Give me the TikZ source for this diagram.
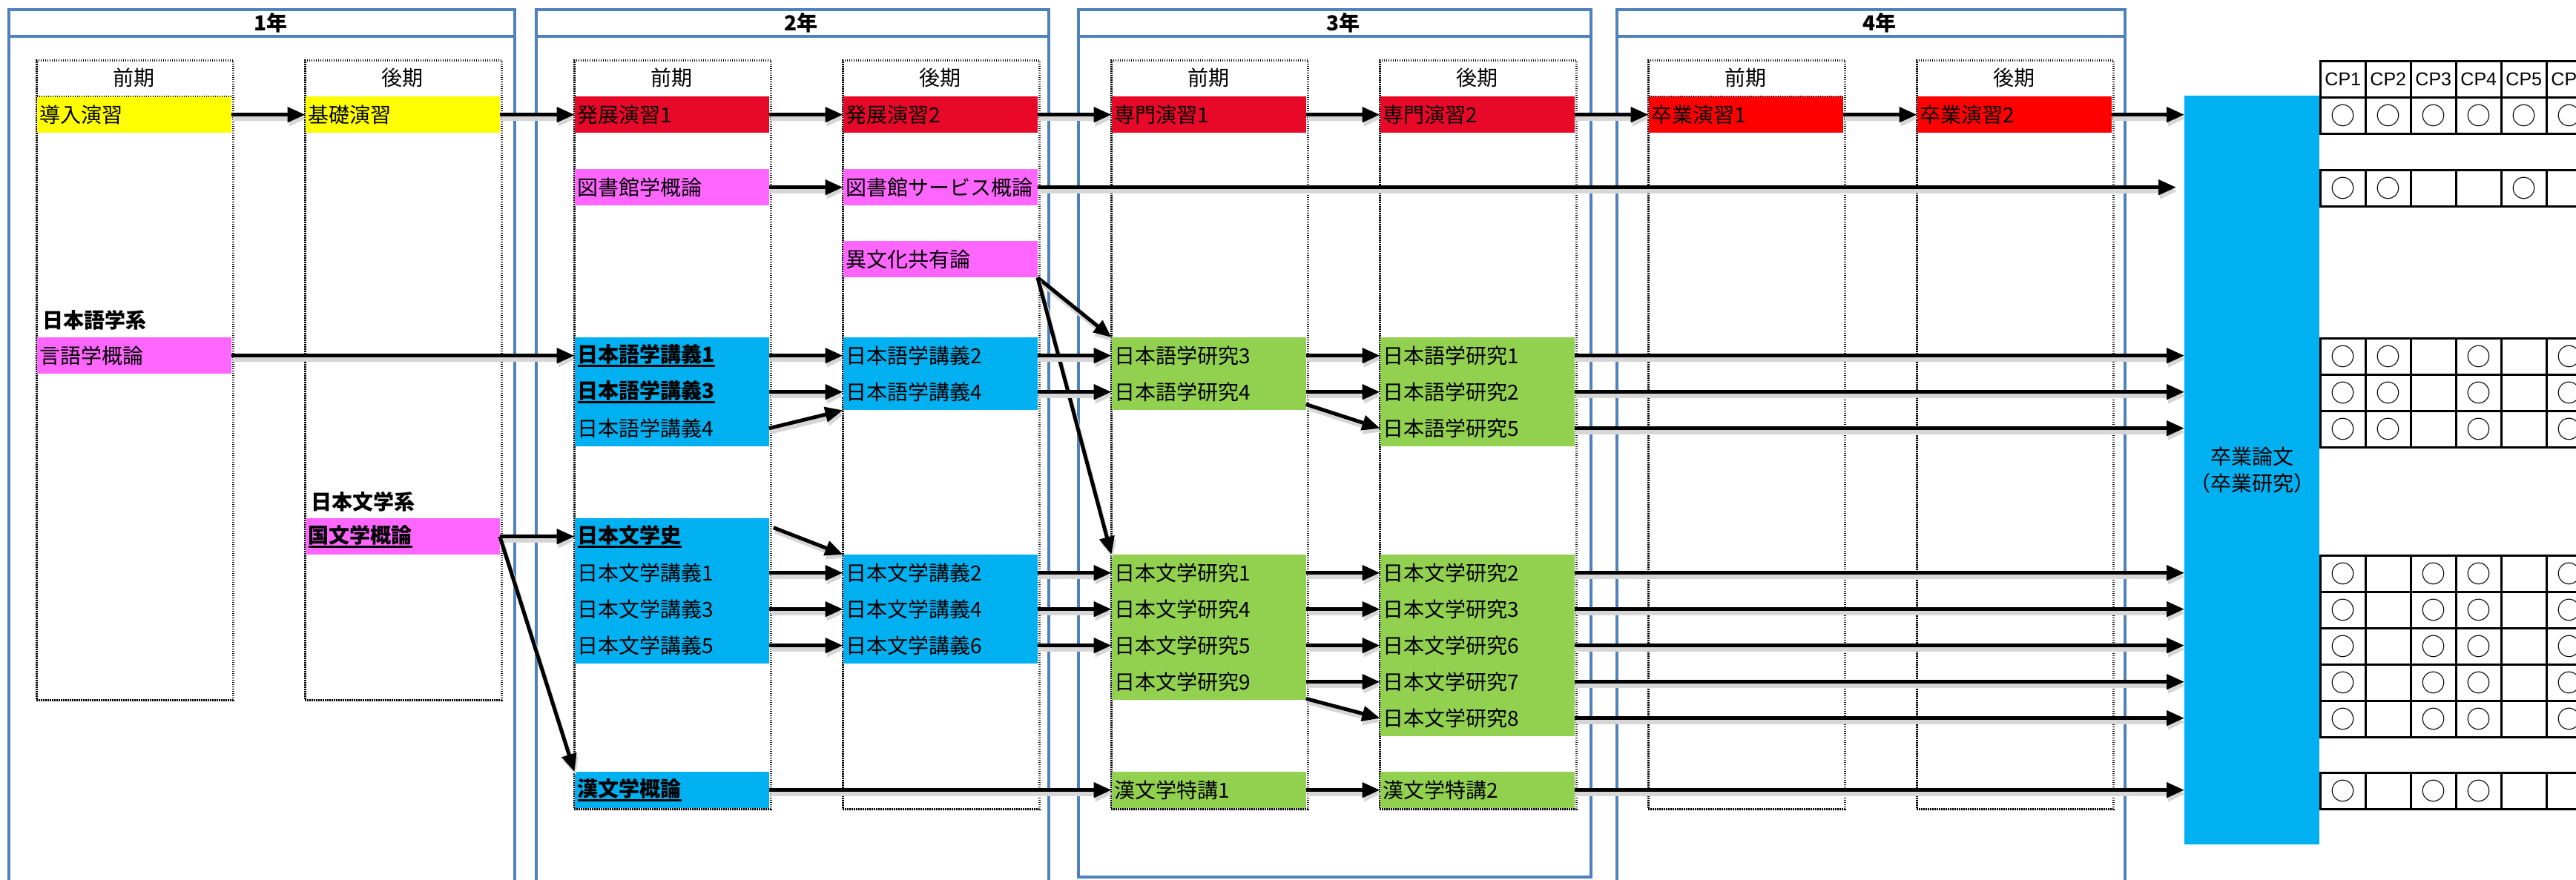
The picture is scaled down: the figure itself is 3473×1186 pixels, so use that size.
\documentclass[tikz,border=0pt]{standalone}
\usepackage{fontspec}
\setmainfont{Noto Sans CJK JP}
\newfontfamily\cpfont{Liberation Sans}
\usetikzlibrary{arrows.meta}
\definecolor{frameblue}{RGB}{79,129,189}
\definecolor{ylw}{RGB}{255,255,0}
\definecolor{hred}{RGB}{232,8,40}
\definecolor{sred}{RGB}{255,0,0}
\definecolor{pnk}{RGB}{255,102,255}
\definecolor{cblue}{RGB}{0,176,240}
\definecolor{grn}{RGB}{146,208,80}
\newcommand\crsfont{\fontsize{28pt}{32pt}\selectfont}
\newcommand\ulb[1]{\setbox0=\hbox{\bfseries #1}\rlap{\rule[-7pt]{\wd0}{3pt}}\box0}
\begin{document}
\begin{tikzpicture}[x=1pt,y=-1pt,
  every node/.style={font=\crsfont},
  yearframe/.style={draw=frameblue,line width=4pt},
  yearlbl/.style={font=\crsfont\bfseries,inner sep=0},
  sembox/.style={draw,line width=2.6pt,dash pattern=on 1.5pt off 1.5pt,anchor=north west,minimum width=265pt,inner sep=0},
  semline/.style={line width=2.6pt,dash pattern=on 1.5pt off 1.5pt},
  semhead/.style={inner sep=0},
  course/.style={anchor=north west,minimum height=49pt,text width=254pt,inner xsep=4pt,inner ysep=0pt,align=left},
  grouplbl/.style={anchor=west,inner sep=0,font=\crsfont\bfseries},
  arr/.style={-{Triangle[length=24pt,width=20pt]},line width=5pt,
    preaction={draw=black!16,line width=6pt,transform canvas={xshift=2pt,yshift=-5pt}}},
  cell/.style={draw,line width=2.5pt,anchor=north west,minimum width=61pt,minimum height=49pt,inner sep=0},
]
\useasboundingbox (0,0) rectangle (3473,1186);
\clip (0,0) rectangle (3473,1186);

% year frames
\draw[yearframe] (12,13) rectangle (694,1200);
\draw[yearframe] (12,49) -- (694,49);
\draw[yearframe] (723,13) rectangle (1414,1200);
\draw[yearframe] (723,49) -- (1414,49);
\draw[yearframe] (1454,13) rectangle (2145,1183);
\draw[yearframe] (1454,49) -- (2145,49);
\draw[yearframe] (2180,13) rectangle (2865,1200);
\draw[yearframe] (2180,49) -- (2865,49);
\node[yearlbl] (yr1) at (365,31) {1年};
\node[yearlbl] (yr2) at (1080,31) {2年};
\node[yearlbl] (yr3) at (1811,31) {3年};
\node[yearlbl] (yr4) at (2534,31) {4年};

% semester boxes
\node[sembox,minimum height=863pt] (s1a) at (48,80) {};
\node[sembox,minimum height=863pt] (s1b) at (410,80) {};
\node[sembox,minimum height=1010pt] (s2a) at (773,80) {};
\node[sembox,minimum height=1010pt] (s2b) at (1135,80) {};
\node[sembox,minimum height=1010pt] (s3a) at (1497,80) {};
\node[sembox,minimum height=1010pt] (s3b) at (1859,80) {};
\node[sembox,minimum height=1010pt] (s4a) at (2221,80) {};
\node[sembox,minimum height=1010pt] (s4b) at (2583,80) {};
\node[semhead] (h1a) at (180.5,105) {前期};
\node[semhead] (h1b) at (542.5,105) {後期};
\node[semhead] (h2a) at (905.5,105) {前期};
\node[semhead] (h2b) at (1267.5,105) {後期};
\node[semhead] (h3a) at (1629.5,105) {前期};
\node[semhead] (h3b) at (1991.5,105) {後期};
\node[semhead] (h4a) at (2353.5,105) {前期};
\node[semhead] (h4b) at (2715.5,105) {後期};

% seminar row
\node[course,fill=ylw] (dounyu) at (49.5,130) {導入演習};
\node[course,fill=ylw] (kiso) at (411.5,130) {基礎演習};
\node[course,fill=hred] (hatten1) at (774.5,130) {発展演習1};
\node[course,fill=hred] (hatten2) at (1136.5,130) {発展演習2};
\node[course,fill=hred] (senmon1) at (1498.5,130) {専門演習1};
\node[course,fill=hred] (senmon2) at (1860.5,130) {専門演習2};
\node[course,fill=sred] (sotsu1) at (2222.5,130) {卒業演習1};
\node[course,fill=sred] (sotsu2) at (2584.5,130) {卒業演習2};
\draw[semline] (dounyu.north west) -- (dounyu.north east);
\draw[semline] (sotsu1.north west) -- (sotsu1.north east);

% library / other
\node[course,fill=pnk] (tosho1) at (774.5,228) {図書館学概論};
\node[course,fill=pnk] (tosho2) at (1136.5,228) {図書館サービス概論};
\node[course,fill=pnk] (ibunka) at (1136.5,325) {異文化共有論};

% Japanese linguistics
\node[grouplbl] (nihongokei) at (57,432) {日本語学系};
\node[course,fill=pnk] (gengo) at (49.5,455) {言語学概論};
\node[course,fill=cblue] (gl1) at (774.5,455) {\ulb{日本語学講義1}};
\node[course,fill=cblue] (gl3) at (774.5,504) {\ulb{日本語学講義3}};
\node[course,fill=cblue] (gl4a) at (774.5,553) {日本語学講義4};
\node[course,fill=cblue] (gl2) at (1136.5,455) {日本語学講義2};
\node[course,fill=cblue] (gl4) at (1136.5,504) {日本語学講義4};
\node[course,fill=grn] (gk3) at (1498.5,455) {日本語学研究3};
\node[course,fill=grn] (gk4) at (1498.5,504) {日本語学研究4};
\node[course,fill=grn] (gk1) at (1860.5,455) {日本語学研究1};
\node[course,fill=grn] (gk2) at (1860.5,504) {日本語学研究2};
\node[course,fill=grn] (gk5) at (1860.5,553) {日本語学研究5};

% Japanese literature
\node[grouplbl] (nihonbunkei) at (419,677) {日本文学系};
\node[course,fill=pnk] (kokubun) at (411.5,699) {\ulb{国文学概論}};
\node[course,fill=cblue] (bshi) at (774.5,699) {\ulb{日本文学史}};
\node[course,fill=cblue] (bl1) at (774.5,748) {日本文学講義1};
\node[course,fill=cblue] (bl3) at (774.5,797) {日本文学講義3};
\node[course,fill=cblue] (bl5) at (774.5,846) {日本文学講義5};
\node[course,fill=cblue] (bl2) at (1136.5,748) {日本文学講義2};
\node[course,fill=cblue] (bl4) at (1136.5,797) {日本文学講義4};
\node[course,fill=cblue] (bl6) at (1136.5,846) {日本文学講義6};
\node[course,fill=grn] (bk1) at (1498.5,748) {日本文学研究1};
\node[course,fill=grn] (bk4) at (1498.5,797) {日本文学研究4};
\node[course,fill=grn] (bk5) at (1498.5,846) {日本文学研究5};
\node[course,fill=grn] (bk9) at (1498.5,895) {日本文学研究9};
\node[course,fill=grn] (bk2) at (1860.5,748) {日本文学研究2};
\node[course,fill=grn] (bk3) at (1860.5,797) {日本文学研究3};
\node[course,fill=grn] (bk6) at (1860.5,846) {日本文学研究6};
\node[course,fill=grn] (bk7) at (1860.5,895) {日本文学研究7};
\node[course,fill=grn] (bk8) at (1860.5,944) {日本文学研究8};
\node[course,fill=cblue] (kanbun) at (774.5,1041) {\ulb{漢文学概論}};
\node[course,fill=grn] (kt1) at (1498.5,1041) {漢文学特講1};
\node[course,fill=grn] (kt2) at (1860.5,1041) {漢文学特講2};

% thesis
\node[fill=cblue,anchor=north west,minimum width=182pt,minimum height=1010pt,inner sep=0,align=center,font=\fontsize{28pt}{36pt}\selectfont] (thesis) at (2945,129) {卒業論文\\（卒業研究）};

% CP table
\foreach \i in {1,...,6}
  \node[cell,font=\cpfont\fontsize{25pt}{28pt}\selectfont] (cph\i) at ({3127+61*(\i-1)},81) {CP\i};
\foreach \r/\y/\pat in {1/130/{1,1,1,1,1,1},2/228/{1,1,0,0,1,0},3/455/{1,1,0,1,0,1},4/504/{1,1,0,1,0,1},5/553/{1,1,0,1,0,1},6/748/{1,0,1,1,0,1},7/797/{1,0,1,1,0,1},8/846/{1,0,1,1,0,1},9/895/{1,0,1,1,0,1},10/944/{1,0,1,1,0,1},11/1041/{1,0,1,1,0,0}}
  \foreach \m [count=\c] in \pat
    \node[cell,font=\fontsize{33pt}{36pt}\selectfont] (cp\r-\c) at ({3127+61*(\c-1)},\y) {\ifnum\m=1 ○\fi};

% arrows: seminar chain
\draw[arr] (dounyu.east) -- (kiso.west);
\draw[arr] (kiso.east) -- (hatten1.west);
\draw[arr] (hatten1.east) -- (hatten2.west);
\draw[arr] (hatten2.east) -- (senmon1.west);
\draw[arr] (senmon1.east) -- (senmon2.west);
\draw[arr] (senmon2.east) -- (sotsu1.west);
\draw[arr] (sotsu1.east) -- (sotsu2.west);
\draw[arr] (sotsu2.east) -- (sotsu2.east -| thesis.west);
% library
\draw[arr] (tosho1.east) -- (tosho2.west);
\coordinate (toshoend) at (tosho2.east -| thesis.west);
\draw[arr] (tosho2.east) -- ([xshift=-11pt]toshoend);
\draw[arr] (ibunka.south east) -- (gk3.north west);
\draw[arr] (ibunka.south east) -- (bk1.north west);
% Japanese linguistics
\draw[arr] (gengo.east) -- (gl1.west);
\draw[arr] (gl1.east) -- (gl2.west);
\draw[arr] (gl3.east) -- (gl4.west);
\draw[arr] (gl4a.east) -- (gl4.south west);
\draw[arr] (gl2.east) -- (gk3.west);
\draw[arr] (gl4.east) -- (gk4.west);
\draw[arr] (gk3.east) -- (gk1.west);
\draw[arr] (gk4.east) -- (gk2.west);
\draw[arr] ([yshift=8pt]gk4.south east) -- (gk5.west);
\draw[arr] (gk1.east) -- (gk1.east -| thesis.west);
\draw[arr] (gk2.east) -- (gk2.east -| thesis.west);
\draw[arr] (gk5.east) -- (gk5.east -| thesis.west);
% Japanese literature
\draw[arr] (kokubun.east) -- (bshi.west);
\draw[arr] (kokubun.east) -- (kanbun.north west);
\draw[arr] ([xshift=6pt,yshift=12pt]bshi.east) -- (bl2.north west);
\draw[arr] (bl1.east) -- (bl2.west);
\draw[arr] (bl3.east) -- (bl4.west);
\draw[arr] (bl5.east) -- (bl6.west);
\draw[arr] (bl2.east) -- (bk1.west);
\draw[arr] (bl4.east) -- (bk4.west);
\draw[arr] (bl6.east) -- (bk5.west);
\draw[arr] (bk1.east) -- (bk2.west);
\draw[arr] (bk4.east) -- (bk3.west);
\draw[arr] (bk5.east) -- (bk6.west);
\draw[arr] (bk9.east) -- (bk7.west);
\draw[arr] ([yshift=2pt]bk9.south east) -- (bk8.west);
\draw[arr] (bk2.east) -- (bk2.east -| thesis.west);
\draw[arr] (bk3.east) -- (bk3.east -| thesis.west);
\draw[arr] (bk6.east) -- (bk6.east -| thesis.west);
\draw[arr] (bk7.east) -- (bk7.east -| thesis.west);
\draw[arr] (bk8.east) -- (bk8.east -| thesis.west);
% Chinese literature
\draw[arr] (kanbun.east) -- (kt1.west);
\draw[arr] (kt1.east) -- (kt2.west);
\draw[arr] (kt2.east) -- (kt2.east -| thesis.west);
\end{tikzpicture}
\end{document}
